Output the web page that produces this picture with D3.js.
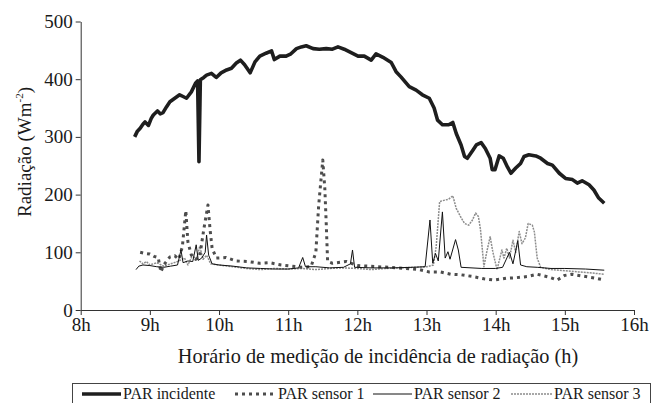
<!DOCTYPE html>
<html>
<head>
<meta charset="utf-8">
<script src="https://cdn.jsdelivr.net/npm/d3@7"></script>
<style>
  body { margin: 0; background: #fff; }
  svg { display: block; }
  text { font-family: "Liberation Serif", "Times New Roman", serif; }
</style>
</head>
<body>
<div id="chart"></div>
<script>
const kWidth = 655;
const kHeight = 403;
const kLeft = 80.7;
const kRight = 634;
const kTop = 21.5;
const kBottom = 310;
const kFont = "Liberation Serif";

// hours on the x axis
const xTicks = [8, 9, 10, 11, 12, 13, 14, 15, 16];
const yTicks = [0, 100, 200, 300, 400, 500];

const incidentTime = [8.78, 8.82, 8.86, 8.90, 8.93, 8.98, 9.02, 9.05, 9.11, 9.15, 9.19, 9.24, 9.29, 9.36, 9.43, 9.48, 9.53, 9.60, 9.66, 9.69, 9.71, 9.73, 9.78, 9.82, 9.89, 9.96, 10.03, 10.11, 10.18, 10.25, 10.31, 10.37, 10.45, 10.52, 10.59, 10.68, 10.76, 10.80, 10.88, 10.97, 11.04, 11.12, 11.19, 11.26, 11.36, 11.45, 11.55, 11.64, 11.72, 11.81, 11.91, 12.01, 12.10, 12.20, 12.27, 12.37, 12.49, 12.56, 12.63, 12.75, 12.85, 12.94, 13.04, 13.11, 13.16, 13.23, 13.32, 13.38, 13.43, 13.50, 13.55, 13.59, 13.67, 13.72, 13.79, 13.85, 13.92, 13.95, 13.99, 14.05, 14.11, 14.17, 14.22, 14.29, 14.36, 14.41, 14.48, 14.58, 14.65, 14.75, 14.82, 14.92, 15.01, 15.11, 15.18, 15.25, 15.35, 15.42, 15.49, 15.57];
const incidentValues = [300, 310, 315, 322, 326, 320, 332, 338, 345, 340, 342, 352, 361, 367, 373, 370, 367, 378, 393, 397, 257, 399, 403, 407, 410, 403, 411, 416, 419, 428, 433, 425, 411, 430, 440, 445, 449, 434, 440, 440, 444, 453, 456, 458, 453, 452, 453, 452, 456, 452, 446, 440, 440, 433, 444, 438, 429, 413, 404, 387, 381, 373, 367, 350, 329, 321, 321, 325, 306, 286, 266, 263, 277, 286, 290, 280, 263, 243, 243, 267, 263, 248, 237, 246, 254, 266, 269, 267, 263, 254, 251, 237, 228, 226, 220, 224, 217, 208, 194, 185];

const sensor1Time = [8.86, 8.93, 9.00, 9.06, 9.12, 9.16, 9.20, 9.29, 9.36, 9.42, 9.47, 9.52, 9.55, 9.60, 9.66, 9.72, 9.78, 9.84, 9.87, 9.90, 9.96, 10.10, 10.25, 10.42, 10.59, 10.73, 10.90, 11.05, 11.20, 11.33, 11.40, 11.44, 11.50, 11.53, 11.55, 11.57, 11.64, 11.84, 12.0, 12.3, 12.6, 12.9, 13.04, 13.2, 13.35, 13.5, 13.67, 13.83, 13.98, 14.15, 14.3, 14.46, 14.60, 14.77, 14.89, 15.0, 15.1, 15.3, 15.45, 15.57];
const sensor1Values = [100, 98, 97, 93, 91, 66, 78, 92, 94, 88, 110, 172, 118, 95, 88, 92, 140, 182, 140, 107, 90, 91, 85, 84, 81, 82, 78, 76, 74, 75, 100, 180, 260, 210, 150, 84, 81, 84, 77, 75, 73, 70, 66, 66, 62, 61, 58, 54, 52, 55, 56, 58, 62, 57, 52, 60, 62, 58, 55, 52];

const sensor2Time = [8.80, 8.84, 8.90, 9.0, 9.1, 9.2, 9.3, 9.40, 9.45, 9.48, 9.55, 9.62, 9.67, 9.70, 9.75, 9.80, 9.82, 9.85, 9.90, 10.0, 10.2, 10.4, 10.6, 10.8, 11.0, 11.15, 11.21, 11.25, 11.4, 11.6, 11.8, 11.90, 11.93, 11.96, 12.2, 12.5, 12.8, 12.98, 13.05, 13.09, 13.13, 13.17, 13.23, 13.27, 13.31, 13.34, 13.42, 13.46, 13.50, 13.8, 14.0, 14.1, 14.2, 14.25, 14.32, 14.36, 14.45, 14.6, 14.8, 15.0, 15.3, 15.57];
const sensor2Values = [70, 76, 78, 77, 75, 74, 76, 78, 104, 82, 85, 84, 113, 86, 90, 100, 130, 95, 80, 78, 76, 73, 72, 71, 71, 73, 91, 75, 75, 73, 74, 80, 104, 74, 73, 73, 74, 75, 156, 81, 98, 85, 170, 90, 101, 88, 122, 104, 74, 72, 72, 74, 100, 80, 120, 78, 75, 74, 72, 72, 71, 69];

const sensor3Time = [8.85, 8.9, 8.95, 9.0, 9.1, 9.2, 9.3, 9.4, 9.5, 9.55, 9.62, 9.67, 9.72, 9.77, 9.82, 9.88, 10.0, 10.2, 10.4, 10.6, 10.8, 11.0, 11.2, 11.4, 11.6, 11.8, 12.0, 12.2, 12.4, 12.6, 12.8, 13.0, 13.10, 13.14, 13.19, 13.25, 13.32, 13.38, 13.43, 13.50, 13.55, 13.61, 13.66, 13.71, 13.75, 13.78, 13.83, 13.87, 13.92, 13.96, 14.02, 14.09, 14.12, 14.16, 14.20, 14.25, 14.29, 14.34, 14.38, 14.43, 14.47, 14.53, 14.56, 14.60, 14.65, 14.8, 15.0, 15.2, 15.4, 15.57];
const sensor3Values = [85, 80, 84, 78, 82, 76, 80, 84, 90, 78, 96, 85, 110, 88, 95, 80, 78, 75, 72, 70, 72, 71, 72, 70, 72, 73, 72, 70, 72, 73, 74, 75, 78, 110, 188, 190, 192, 198, 176, 160, 150, 147, 155, 168, 162, 140, 75, 100, 127, 100, 70, 104, 90, 107, 90, 121, 100, 136, 115, 125, 150, 147, 135, 90, 74, 70, 68, 66, 64, 62];

const legendLabels = ["PAR incidente", "PAR sensor 1", "PAR sensor 2", "PAR sensor 3"];

const seriesStyles = [
  { color: "#1e1e1e", width: 3.6, dash: null },
  { color: "#4d4d4d", width: 3, dash: "3,4" },
  { color: "#111", width: 1, dash: null },
  { color: "#8c8c8c", width: 1.5, dash: "2,1" }
];

function createSvg()
{
  return d3.select("#chart")
    .append("svg")
    .attr("width", kWidth)
    .attr("height", kHeight);
}

function drawChart(svg)
{
  const xScale = d3.scaleLinear().domain([8, 16]).range([kLeft, kRight]);
  const yScale = d3.scaleLinear().domain([0, 500]).range([kBottom, kTop]);

  const xAxis = d3.axisBottom(xScale)
    .tickValues(xTicks)
    .tickSize(5)
    .tickSizeOuter(0)
    .tickFormat(d => `${d}h`);
  const yAxis = d3.axisLeft(yScale)
    .tickValues(yTicks)
    .tickSize(5)
    .tickSizeOuter(0);

  const gx = svg.append("g")
    .attr("transform", `translate(0, ${kBottom})`)
    .call(xAxis);
  const gy = svg.append("g")
    .attr("transform", `translate(${kLeft}, 0)`)
    .call(yAxis);

  [gx, gy].forEach(g => {
    g.attr("font-family", kFont).attr("font-size", 19);
    g.selectAll("path, line").attr("stroke", "#333").attr("stroke-width", 1);
    g.selectAll("text").attr("fill", "#1a1a1a");
  });

  const series = [
    [incidentTime, incidentValues],
    [sensor1Time, sensor1Values],
    [sensor2Time, sensor2Values],
    [sensor3Time, sensor3Values]
  ];

  const line = d3.line()
    .x(d => xScale(d[0]))
    .y(d => yScale(d[1]));

  // back to front: sensor 3, sensor 1, sensor 2, incident on top
  [3, 1, 2, 0].forEach(i => {
    const pts = d3.zip(series[i][0], series[i][1]);
    const st = seriesStyles[i];
    svg.append("path")
      .datum(pts)
      .attr("fill", "none")
      .attr("stroke", st.color)
      .attr("stroke-width", st.width)
      .attr("stroke-linejoin", "round")
      .attr("stroke-dasharray", st.dash)
      .attr("d", line);
  });

  // axis titles
  svg.append("text")
    .attr("x", 378)
    .attr("y", 363)
    .attr("text-anchor", "middle")
    .attr("font-family", kFont)
    .attr("font-size", 20.3)
    .attr("fill", "#1a1a1a")
    .text("Horário de medição de incidência de radiação (h)");

  const yt = svg.append("text")
    .attr("transform", "translate(31, 152) rotate(-90)")
    .attr("text-anchor", "middle")
    .attr("font-family", kFont)
    .attr("font-size", 19)
    .attr("fill", "#1a1a1a");
  yt.append("tspan").text("Radiação (Wm");
  yt.append("tspan").attr("dy", -8).attr("font-size", 11).text("-2");
  yt.append("tspan").attr("dy", 8).text(")");

  // legend
  const lg = svg.append("g");
  lg.append("rect")
    .attr("x", 72.5).attr("y", 383.5)
    .attr("width", 578).attr("height", 30)
    .attr("fill", "none")
    .attr("stroke", "#444")
    .attr("stroke-width", 1);

  const lineStarts = [82, 235, 373, 511];
  const lineEnds = [121, 276, 412, 552];
  legendLabels.forEach((label, i) => {
    const st = seriesStyles[i];
    lg.append("line")
      .attr("x1", lineStarts[i]).attr("x2", lineEnds[i])
      .attr("y1", 394).attr("y2", 394)
      .attr("stroke", st.color)
      .attr("stroke-width", st.width)
      .attr("stroke-dasharray", st.dash);
    lg.append("text")
      .attr("x", lineEnds[i] + 2)
      .attr("y", 399)
      .attr("font-family", kFont)
      .attr("font-size", 16)
      .attr("fill", "#1a1a1a")
      .text(label);
  });
}

document.addEventListener("DOMContentLoaded", () => {
  const svg = createSvg();
  drawChart(svg);
});
</script>
</body>
</html>
